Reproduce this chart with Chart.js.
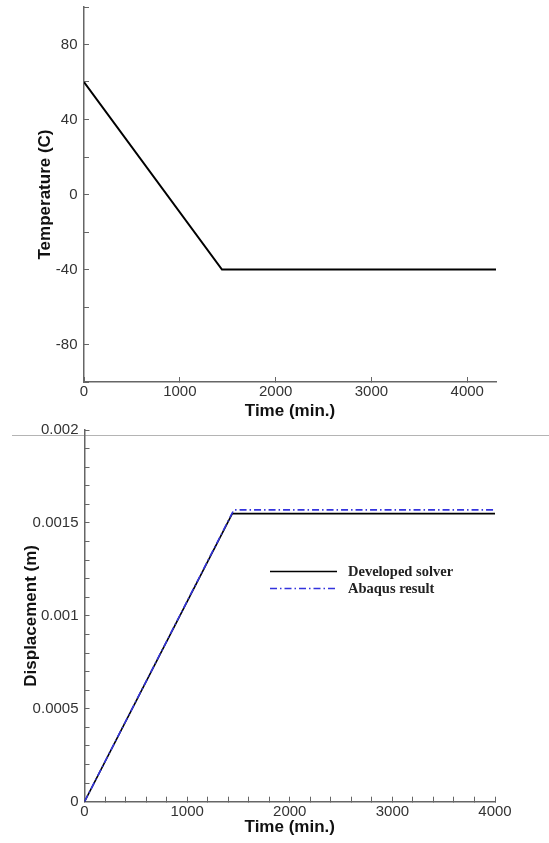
<!DOCTYPE html>
<html>
<head>
<meta charset="utf-8">
<script src="https://cdn.jsdelivr.net/npm/chart.js@4/dist/chart.umd.min.js"></script>
<style>
  html, body { margin: 0; padding: 0; background: #fff; }
  body { width: 549px; height: 843px; position: relative; overflow: hidden; }
  .box { position: absolute; left: 0; width: 549px; }
  #topBox { top: 0; height: 430px; }
  #botBox { top: 420px; height: 423px; }
  #sep { position: absolute; left: 12px; top: 435px; width: 537px; height: 1px; background: #b4b4b4; }
  #legend { position: absolute; left: 270px; top: 563px; font-family: "Liberation Serif", "Times New Roman", serif; font-weight: bold; font-size: 14.5px; color: #222; }
  .row { position: absolute; left: 0; height: 17px; white-space: nowrap; }
  .row svg { position: absolute; left: 0; top: 0; }
  .row span { position: absolute; left: 78px; top: 0; line-height: 17px; }
</style>
</head>
<body>
<div id="sep"></div>
<div class="box" id="topBox"><canvas id="topChart"></canvas></div>
<div class="box" id="botBox"><canvas id="botChart"></canvas></div>
<div id="legend">
  <div class="row" style="top:0px"><svg width="70" height="17"><line x1="0" y1="8.5" x2="67" y2="8.5" stroke="#000" stroke-width="1.6"/></svg><span id="lg1"></span></div>
  <div class="row" style="top:17px"><svg width="70" height="17"><line x1="0" y1="8.5" x2="67" y2="8.5" stroke="#3333dd" stroke-width="1.6" stroke-dasharray="7,3,1.5,3"/></svg><span id="lg2"></span></div>
</div>
<script>
// ---- Data ----
const topTime = [0, 1440, 4300];
const topTemperature = [60, -40, -40];
const topXTicks = [0, 1000, 2000, 3000, 4000];

const botTimeSolver = [0, 1440, 4000];
const botSolver = [0, 0.00155, 0.00155];
const botTimeAbaqus = [0, 1455, 4000];
const botAbaqus = [0, 0.00157, 0.00157];

const seriesNames = ["Developed solver", "Abaqus result"];
const topXTitle = "Time (min.)";
const topYTitle = "Temperature (C)";
const botXTitle = "Time (min.)";
const botYTitle = "Displacement (m)";

document.getElementById('lg1').textContent = seriesNames[0];
document.getElementById('lg2').textContent = seriesNames[1];

const pts = (xs, ys) => xs.map((x, i) => ({x: x, y: ys[i]}));

const axisColor = '#666';
const tickFont = {family: "'Liberation Sans', Arial, sans-serif", size: 15};
const titleFont = {family: "'Liberation Sans', Arial, sans-serif", size: 17, weight: 'bold'};
const tickColor = '#333';

function fixY(width) {
  return function (s) { s.width = width; s.paddingTop = 0; s.paddingBottom = 0; s.paddingLeft = 0; s.paddingRight = 0; };
}
function fixX(height) {
  return function (s) { s.height = height; s.paddingLeft = 0; s.paddingRight = 0; s.paddingTop = 0; s.paddingBottom = 0; };
}

const baseGrid = {drawOnChartArea: false, drawTicks: true, tickLength: -5, color: axisColor, lineWidth: 1};
const baseBorder = {display: true, color: axisColor, width: 1.5};

new Chart(document.getElementById('topChart'), {
  type: 'line',
  data: {
    datasets: [{
      data: pts(topTime, topTemperature),
      borderColor: '#000', borderWidth: 2, pointRadius: 0, fill: false, tension: 0
    }]
  },
  options: {
    responsive: true, maintainAspectRatio: false, animation: false,
    layout: {padding: {left: 0, top: 7, right: 53, bottom: 0}},
    plugins: {legend: {display: false}, tooltip: {enabled: false}},
    scales: {
      x: {
        type: 'linear', min: 0, max: 4300,
        grid: baseGrid, border: baseBorder,
        afterBuildTicks: s => { s.ticks = topXTicks.map(v => ({value: v})); },
        ticks: {font: tickFont, color: tickColor, padding: 6, maxRotation: 0, autoSkip: false,
          callback: v => String(v)},
        title: {display: true, text: topXTitle, font: titleFont, color: '#111', padding: {top: 0, bottom: 8}},
        afterFit: fixX(48)
      },
      y: {
        type: 'linear', min: -100, max: 100,
        grid: baseGrid, border: baseBorder,
        ticks: {stepSize: 20, font: tickFont, color: tickColor, padding: 11.5,
          callback: v => (Math.round(v) % 40 === 0 ? String(Math.round(v)) : '')},
        title: {display: true, text: topYTitle, font: titleFont, color: '#111', padding: {top: 35, bottom: 0}},
        afterFit: fixY(84)
      }
    }
  }
});

new Chart(document.getElementById('botChart'), {
  type: 'line',
  data: {
    datasets: [{
      label: seriesNames[0],
      data: pts(botTimeSolver, botSolver),
      borderColor: '#000', borderWidth: 1.6, pointRadius: 0, fill: false, tension: 0, order: 1
    }, {
      label: seriesNames[1],
      data: pts(botTimeAbaqus, botAbaqus),
      borderColor: '#3333dd', borderWidth: 1.6, borderDash: [7, 3, 1.5, 3], pointRadius: 0, fill: false, tension: 0, order: 0
    }]
  },
  options: {
    responsive: true, maintainAspectRatio: false, animation: false,
    layout: {padding: {left: 0, top: 10, right: 54, bottom: 0}},
    plugins: {legend: {display: false}, tooltip: {enabled: false}},
    scales: {
      x: {
        type: 'linear', min: 0, max: 4000,
        grid: baseGrid, border: baseBorder,
        ticks: {stepSize: 200, font: tickFont, color: tickColor, padding: 6, maxRotation: 0, autoSkip: false,
          callback: v => (Math.round(v) % 1000 === 0 ? String(Math.round(v)) : '')},
        title: {display: true, text: botXTitle, font: titleFont, color: '#111', padding: {top: 0, bottom: 5}},
        afterFit: fixX(41.3)
      },
      y: {
        type: 'linear', min: 0, max: 0.002,
        grid: baseGrid, border: baseBorder,
        ticks: {stepSize: 0.0001, font: tickFont, color: tickColor, padding: 11, autoSkip: false,
          callback: v => { const r = v / 0.0005; return Math.abs(r - Math.round(r)) < 1e-6 ? String(+v.toFixed(4)) : ''; }},
        title: {display: true, text: botYTitle, font: titleFont, color: '#111', padding: {top: 21, bottom: 0}},
        afterFit: fixY(84.5)
      }
    }
  }
});
</script>
</body>
</html>
